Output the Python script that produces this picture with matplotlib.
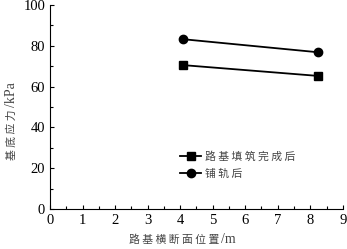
import matplotlib
matplotlib.use('Agg')
import matplotlib.pyplot as plt
from matplotlib.ticker import MultipleLocator

# 数据
x_pos = [4.1, 8.25]
fill_done = [70.5, 65.2]
after_track = [83.2, 76.8]
labels = ['路 基 填 筑 完 成 后', '铺 轨 后']

cjk = ['Noto Sans CJK SC', 'DejaVu Sans']
plt.rcParams['font.family'] = ['Liberation Serif']

fig = plt.figure(figsize=(3.47, 2.49), dpi=100)
ax = fig.add_axes([0.144, 0.161, 0.844, 0.819])

ax.plot(x_pos, fill_done, color='black', lw=1.3, marker='s', ms=5.5, label=labels[0])
ax.plot(x_pos, after_track, color='black', lw=1.3, marker='o', ms=6, label=labels[1])

ax.set_xlim(0, 9)
ax.set_ylim(0, 100)
ax.xaxis.set_major_locator(MultipleLocator(1))
ax.xaxis.set_minor_locator(MultipleLocator(0.5))
ax.yaxis.set_major_locator(MultipleLocator(20))
ax.yaxis.set_minor_locator(MultipleLocator(10))
ax.tick_params(which='both', direction='in', labelsize=10.5, width=0.8)
ax.tick_params(which='major', length=3)
ax.tick_params(which='minor', length=2)
ax.spines['top'].set_visible(False)
ax.spines['right'].set_visible(False)

# 轴标题：中文部分 + 单位部分
gray = '#444444'
ax.text(0.585, -0.152, '路 基 横 断 面 位 置 ', family=cjk, fontsize=7.8, color=gray,
        ha='right', va='center', transform=ax.transAxes)
ax.text(0.585, -0.152, '/m', fontsize=10, color=gray,
        ha='left', va='center', transform=ax.transAxes)
ax.text(-0.13, 0.5, '基 底 应 力 ', family=cjk, fontsize=7.8, color=gray, rotation=90,
        rotation_mode='anchor', ha='right', va='center', transform=ax.transAxes)
ax.text(-0.13, 0.5, '/kPa', fontsize=10, color=gray, rotation=90,
        rotation_mode='anchor', ha='left', va='center', transform=ax.transAxes)

leg = ax.legend(loc='center left', bbox_to_anchor=(0.41, 0.215), frameon=False,
                prop={'family': cjk, 'size': 7.8}, handlelength=2.0, labelspacing=0.65,
                handletextpad=0.35)
for t in leg.get_texts():
    t.set_color(gray)

fig.savefig('out.png', dpi=100)
